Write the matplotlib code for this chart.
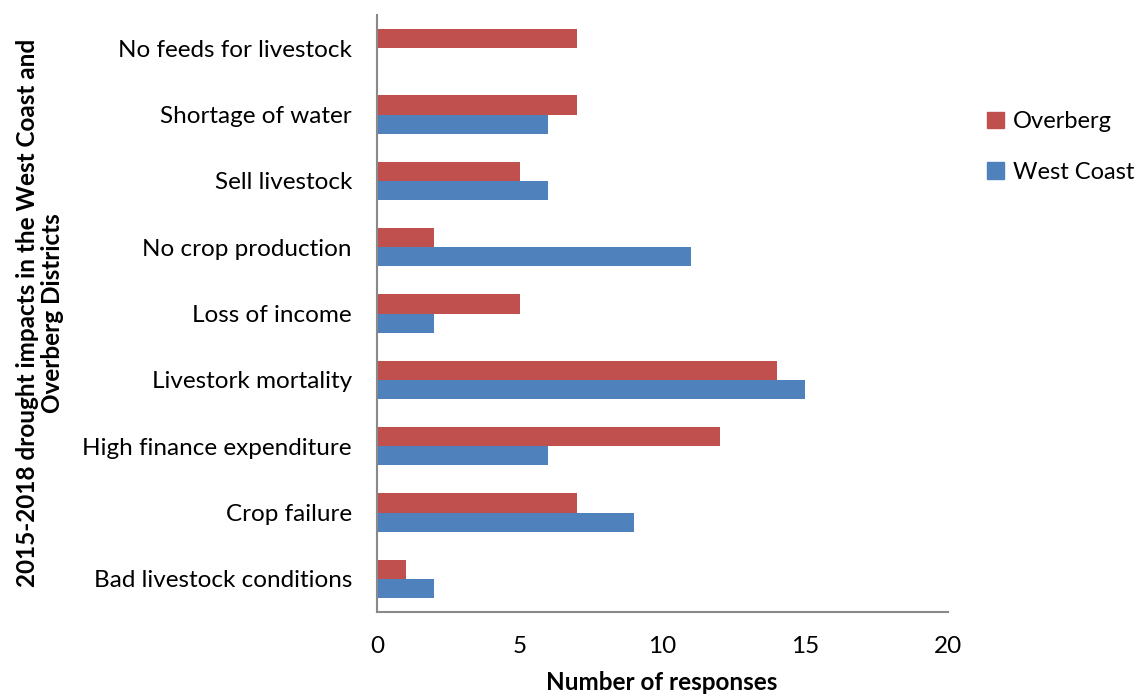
import matplotlib
matplotlib.use("Agg")
import matplotlib.pyplot as plt
import numpy as np
from matplotlib.patches import Patch

plt.rcParams['font.family'] = ['Lato', 'DejaVu Sans']

categories = ["Bad livestock conditions", "Crop failure", "High finance expenditure",
              "Livestork mortality", "Loss of income", "No crop production",
              "Sell livestock", "Shortage of water", "No feeds for livestock"]
overberg = [1, 7, 12, 14, 5, 2, 5, 7, 7]
west_coast = [2, 9, 6, 15, 2, 11, 6, 6, 0]
xticks = [0, 5, 10, 15, 20]

c_over = "#C0504D"
c_west = "#4F81BD"
fs = 17.5

fig = plt.figure(figsize=(11.37, 6.97), dpi=100)
ax = fig.add_axes([377/1137, 1-612/697, (948-377)/1137, (612-15)/697])

y = np.arange(len(categories))
h = 0.287
ax.barh(y + h/2, overberg, height=h, color=c_over, label="Overberg")
ax.barh(y - h/2, west_coast, height=h, color=c_west, label="West Coast")

ax.set_xlim(0, 20)
ax.set_ylim(-0.5, 8.5)
ax.set_xticks(xticks)
ax.set_xticklabels([str(t) for t in xticks], fontsize=fs)
ax.set_yticks(y)
ax.set_yticklabels(categories, fontsize=fs)
ax.tick_params(axis='both', length=0)
ax.tick_params(axis='y', pad=18)
ax.tick_params(axis='x', pad=17)

for s in ['top', 'right']:
    ax.spines[s].set_visible(False)
for s in ['left', 'bottom']:
    ax.spines[s].set_color('#898989')
    ax.spines[s].set_linewidth(1.5)

fig.text(662/1137, 3/697, "Number of responses", ha='center', va='bottom',
         fontsize=fs, fontweight='bold')
fig.text(40/1137, 1-313/697, "2015-2018 drought impacts in the West Coast and\nOverberg Districts",
         rotation=90, ha='center', va='center', fontsize=fs, fontweight='bold',
         multialignment='center', linespacing=1.15)

handles = [Patch(color=c_over, label="Overberg"), Patch(color=c_west, label="West Coast")]
fig.legend(handles=handles, loc='upper left', bbox_to_anchor=(966/1137, 1-90/697),
           frameon=False, fontsize=17, handlelength=0.7, handleheight=0.7,
           labelspacing=1.25, handletextpad=0.4)

fig.savefig("out.png", dpi=100)
